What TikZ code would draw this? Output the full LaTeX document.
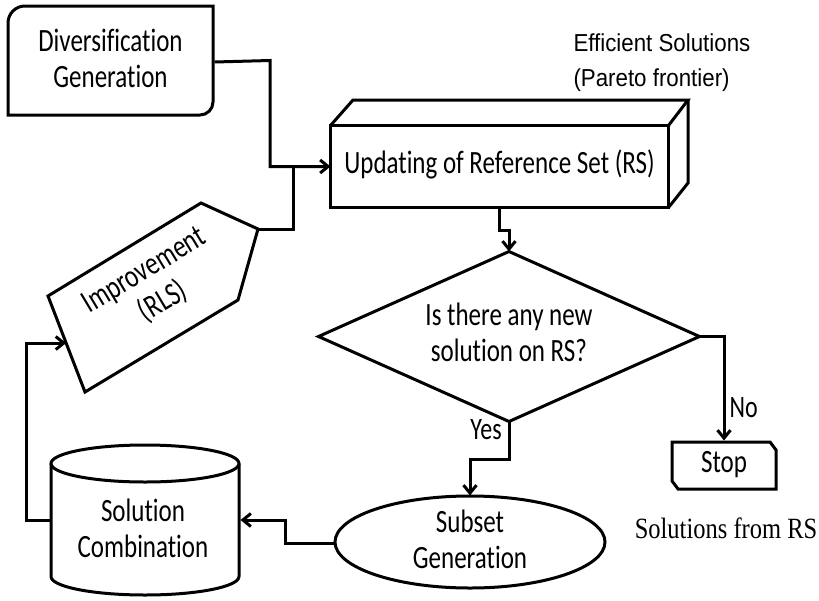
\documentclass[tikz,border=0pt]{standalone}
\usepackage{fontspec}
\setmainfont{Carlito}[Ligatures={NoCommon,NoContextual}, Contextuals=NoAlternate]
\newfontfamily\arialf{Liberation Sans}
\newfontfamily\timesf{Liberation Serif}
\usepackage{graphicx}
\usetikzlibrary{arrows.meta,calc}
\newcommand\tallt[2][1.3]{\scalebox{1}[#1]{\begin{tabular}{@{}c@{}}#2\end{tabular}}}
\begin{document}
\begin{tikzpicture}[x=1pt,y=-1pt, line width=3pt,
  box/.style={inner sep=0pt, draw=none, font=\fontsize{25}{28}\selectfont},
  lab/.style={inner sep=0pt, font=\fontsize{24}{28}\selectfont},
  eff/.style={font=\arialf\fontsize{22.3}{26}\selectfont, anchor=base west, inner sep=0pt},
  arr/.style={-{Straight Barb[length=8pt,width=13pt]}}]
\useasboundingbox (0,0) rectangle (819,600);

% Diversification Generation
\node[box, minimum width=205pt, minimum height=109pt] (div) at (110.5,62) {\tallt{Diversification\\Generation}};
\draw (8,115) -- (8,23) .. controls (8,13.6) and (15.6,6) .. (25,6) -- (213,6) -- (213,102) .. controls (213,109.2) and (207.2,115) .. (200,115) -- cycle;

% Updating of Reference Set
\node[box, minimum width=335pt, minimum height=79pt] (upd) at (499.5,166.5) {\tallt{Updating of Reference Set (RS)}};
\draw (upd.south west) rectangle (upd.north east);
\draw (upd.north west) -- (353,100) -- (688,100) -- (upd.north east);
\draw (688,100) -- (688,183) -- (upd.south east);

% Efficient solutions
\node[eff] (eff1) at (572,51) {\scalebox{1}[1.1]{Efficient Solutions}};
\node[eff] (eff2) at (572,86) {\scalebox{1}[1.1]{(Pareto frontier)}};

% Decision diamond
\node[box, minimum width=378pt, minimum height=167pt] (dia) at (509,336.5) {\tallt{Is there any new\\solution on RS?}};
\draw (dia.north) -- (dia.east) -- (dia.south) -- (dia.west) -- cycle;

% Stop
\node[box, minimum width=104pt, minimum height=47pt] (stop) at (724,465.5) {\tallt{Stop}};
\draw (672,442) -- (770,442) -- (776,450) -- (776,489) -- (678,489) -- (672,481) -- cycle;
\node[font=\timesf\fontsize{24.5}{28}\selectfont, inner sep=0pt] (sfr) at (726,528) {\scalebox{1}[1.2]{Solutions from RS}};

% Subset generation
\node[box, minimum width=270pt, minimum height=92pt] (ell) at (470,543) {\tallt{Subset\\Generation}};
\draw (470,542) ellipse [x radius=135, y radius=46];

% Solution combination (cylinder)
\node[box, minimum width=188pt, minimum height=150pt] (cyl) at (145,520) {};
\draw (145,463.5) ellipse [x radius=94, y radius=18.5];
\draw (51,463.5) -- (51,576.5) arc[start angle=180, end angle=0, x radius=94, y radius=18.5] -- (239,463.5);
\node[box] (cylt) at (143,532) {\tallt{Solution\\Combination}};

% Improvement (pentagon)
\coordinate (impA) at (48,296);
\coordinate (impB) at (201,203);
\coordinate (imptip) at (258,229);
\coordinate (impD) at (238,300);
\coordinate (impE) at (85,392);
\draw (impA) -- (impB) -- (imptip) -- (impD) -- (impE) -- cycle;
\coordinate (impin) at ($(impA)!0.49!(impE)$);
\node[box, rotate=31] (impt) at (154.5,287.5) {\tallt{Improvement\\(RLS)}};

% Connectors
\draw[arr] (div.east) -- (270,60.5) |- (upd.west);
\draw (imptip) -| ($(upd.west)+(-37,0)$);
\draw[arr] (upd.south) -- ++(0,23) -| (dia.north);
\draw[arr] (dia.east) -| (stop.north);
\draw[arr] (dia.south) -- ++(0,38) -| (ell.north);
\draw[arr] (ell.west) -- ++(-48,0) |- (cyl.east);
\draw[arr] (cyl.west) -- ++(-23,0) |- (impin);

% Labels
\node[lab] (yes) at (486,432) {\tallt{Yes}};
\node[lab, anchor=west] (no) at (728,410) {\tallt{No}};
\end{tikzpicture}
\end{document}
